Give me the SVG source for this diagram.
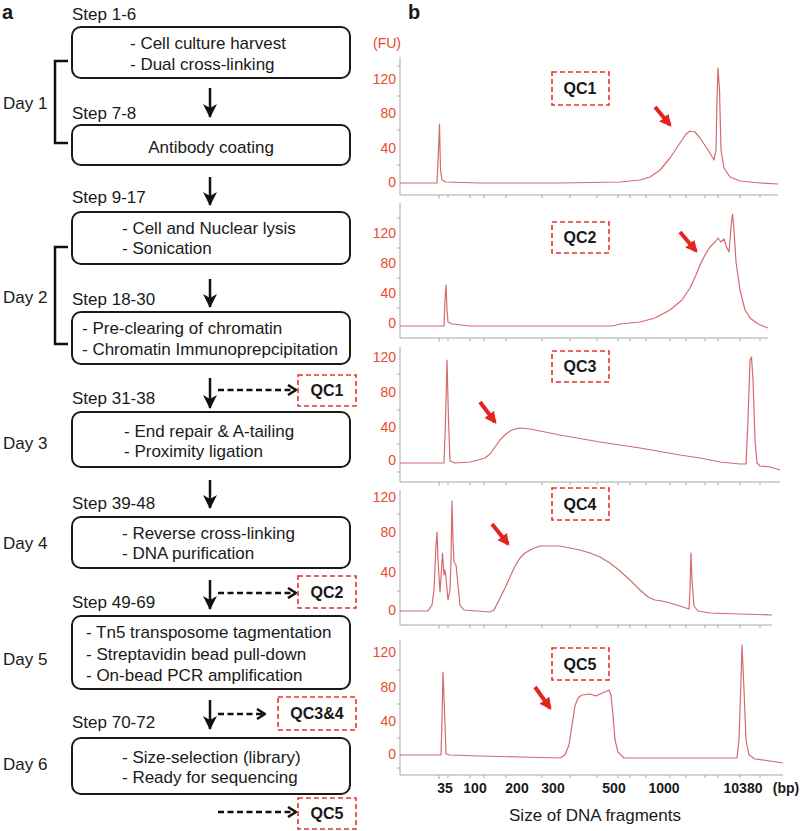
<svg xmlns="http://www.w3.org/2000/svg" xmlns:xlink="http://www.w3.org/1999/xlink" width="800" height="831" viewBox="0 0 800 831">
<style>
text{font-family:"Liberation Sans",Arial,sans-serif;fill:#1a1a1a}
.t{font-size:17px}
.step{font-size:17px}
.lbl{font-size:20px;font-weight:bold}
.qct{font-size:16px;font-weight:bold;text-anchor:middle}
.box{fill:#fff;stroke:#1a1a1a;stroke-width:2}
.qc{fill:none;stroke:#e8312f;stroke-width:1.6;stroke-dasharray:5 3}
.arr{stroke:#111;stroke-width:2.5;fill:none}
.dash{stroke:#111;stroke-width:2.5;fill:none;stroke-dasharray:6 3.5}
.brk{stroke:#111;stroke-width:2.5;fill:none}
.ax{stroke:#a8a8a8;stroke-width:1;fill:none}
.tr{stroke:#d46a6e;stroke-width:1.2;fill:none;stroke-linejoin:round}
.yl{font-size:14px;fill:#ea4a30;text-anchor:end}
.xl{font-size:14px;font-weight:bold;text-anchor:middle}
.red{stroke:#e52620;stroke-width:4;fill:none}
</style>
<defs>
<marker id="ah" markerUnits="userSpaceOnUse" markerWidth="14" markerHeight="14" viewBox="0 0 14 14" refX="13" refY="7" orient="auto"><path d="M0,0 L14,7 L0,14 L4,7 Z" fill="#111"/></marker>
<marker id="ch" markerUnits="userSpaceOnUse" markerWidth="10" markerHeight="12" viewBox="0 0 10 12" refX="9" refY="6" orient="auto"><path d="M1,1 L9,6 L1,11" fill="none" stroke="#111" stroke-width="2.5"/></marker>
<marker id="ra" markerUnits="userSpaceOnUse" markerWidth="12" markerHeight="12" viewBox="0 0 10 10" refX="8" refY="5" orient="auto"><path d="M0,0 L10,5 L0,10 Z" fill="#e52620"/></marker>
<path id="xt" class="ax" d="M439,0v4M448,0v3M470,0v3M484,0v3M506,0v3M542,0v3M570,0v3M597,0v3M618,0v3M630,0v3M646,0v3M670,0v3M686,0v3M705,0v3M718,0v3M740,0v3M760,0v3"/>
</defs>

<text x="2" y="19" class="lbl">a</text>
<text x="408" y="19" class="lbl">b</text>

<!-- Left panel: steps -->
<g id="step1">
<text x="72" y="20" class="step">Step 1-6</text>
<rect x="72" y="27" width="278" height="51" rx="9" class="box"/>
<text x="130" y="49" class="t">- Cell culture harvest</text>
<text x="130" y="70" class="t">- Dual cross-linking</text>
</g>
<g id="step2">
<text x="72" y="119" class="step">Step 7-8</text>
<rect x="72" y="125" width="278" height="40" rx="9" class="box"/>
<text x="211" y="153" class="t" text-anchor="middle">Antibody coating</text>
</g>
<g id="step3">
<text x="72" y="203" class="step">Step 9-17</text>
<rect x="72" y="212" width="278" height="52" rx="9" class="box"/>
<text x="122" y="234" class="t">- Cell and Nuclear lysis</text>
<text x="122" y="254" class="t">- Sonication</text>
</g>
<g id="step4">
<text x="72" y="305" class="step">Step 18-30</text>
<rect x="72" y="312" width="278" height="52" rx="9" class="box"/>
<text x="82" y="334" class="t">- Pre-clearing of chromatin</text>
<text x="82" y="355" class="t">- Chromatin Immunoprepcipitation</text>
</g>
<g id="step5">
<text x="72" y="404" class="step">Step 31-38</text>
<rect x="72" y="412" width="278" height="55" rx="9" class="box"/>
<text x="124" y="437" class="t">- End repair &amp; A-tailing</text>
<text x="124" y="457" class="t">- Proximity ligation</text>
</g>
<g id="step6">
<text x="72" y="509" class="step">Step 39-48</text>
<rect x="72" y="517" width="278" height="51" rx="9" class="box"/>
<text x="122" y="539" class="t">- Reverse cross-linking</text>
<text x="122" y="559" class="t">- DNA purification</text>
</g>
<g id="step7">
<text x="72" y="608" class="step">Step 49-69</text>
<rect x="72" y="616" width="278" height="73" rx="9" class="box"/>
<text x="86" y="638" class="t">- Tn5 transposome tagmentation</text>
<text x="86" y="660" class="t">- Streptavidin bead pull-down</text>
<text x="86" y="681" class="t">- On-bead PCR amplification</text>
</g>
<g id="step8">
<text x="72" y="728" class="step">Step 70-72</text>
<rect x="72" y="738" width="278" height="56" rx="9" class="box"/>
<text x="122" y="763" class="t">- Size-selection (library)</text>
<text x="122" y="783" class="t">- Ready for sequencing</text>
</g>

<g id="days">
<path class="brk" d="M68,61 H55 V143 H68"/>
<path class="brk" d="M68,247 H55 V344 H68"/>
<text x="3" y="109" class="t">Day 1</text>
<text x="3" y="303" class="t">Day 2</text>
<text x="3" y="449" class="t">Day 3</text>
<text x="3" y="549" class="t">Day 4</text>
<text x="3" y="665" class="t">Day 5</text>
<text x="3" y="770" class="t">Day 6</text>
</g>

<g id="qc-left">
<rect x="298" y="375" width="58" height="31" class="qc"/>
<text x="327" y="396" class="qct">QC1</text>
<rect x="298" y="576" width="58" height="32" class="qc"/>
<text x="327" y="598" class="qct">QC2</text>
<rect x="278" y="697" width="78" height="33" class="qc"/>
<text x="317" y="719" class="qct">QC3&amp;4</text>
<rect x="298" y="798" width="58" height="31" class="qc"/>
<text x="327" y="819" class="qct">QC5</text>
</g>

<g id="connectors">
<line x1="210" y1="88" x2="210" y2="117" class="arr" marker-end="url(#ah)"/>
<line x1="210" y1="177" x2="210" y2="205" class="arr" marker-end="url(#ah)"/>
<line x1="210" y1="279" x2="210" y2="307" class="arr" marker-end="url(#ah)"/>
<line x1="210" y1="378" x2="210" y2="408" class="arr" marker-end="url(#ah)"/>
<line x1="210" y1="480" x2="210" y2="508" class="arr" marker-end="url(#ah)"/>
<line x1="210" y1="580" x2="210" y2="609" class="arr" marker-end="url(#ah)"/>
<line x1="210" y1="700" x2="210" y2="729" class="arr" marker-end="url(#ah)"/>
<line x1="218" y1="390" x2="296" y2="390" class="dash" marker-end="url(#ch)"/>
<line x1="218" y1="593" x2="296" y2="593" class="dash" marker-end="url(#ch)"/>
<line x1="218" y1="714" x2="265" y2="714" class="dash" marker-end="url(#ch)"/>
<line x1="218" y1="812" x2="296" y2="812" class="dash" marker-end="url(#ch)"/>
</g>

<!-- Right panel: electropherograms -->
<text x="373" y="48" font-size="14" fill="#ea4a30" style="fill:#ea4a30">(FU)</text>

<g id="chart1">
<path class="ax" d="M400,57 V195 H778"/>
<path class="ax" d="M397,66h3M397,96h3M397,130h3M397,165h3"/>
<use xlink:href="#xt" y="195"/>
<text x="396" y="84" class="yl">120</text><text x="396" y="118" class="yl">80</text><text x="396" y="153" class="yl">40</text><text x="396" y="187" class="yl">0</text>
<path class="tr" d="M400,183 L437,183 L438.5,150 L439.5,124 L440.5,170 L442,180 L446,182 L480,183 L560,183 L620,182 L640,180 L650,177 L660,170 L670,158 L680,143 L686,134 L690,131 L695,132 L700,138 L708,150 L714,160 L716,150 L717,100 L718,68 L719.5,90 L721,150 L724,168 L730,177 L740,181 L760,183 L778,184"/>
<rect x="552" y="72" width="57" height="33" class="qc"/>
<text x="580" y="94" class="qct">QC1</text>
<line x1="655" y1="107" x2="670" y2="125" class="red" marker-end="url(#ra)"/>
</g>

<g id="chart2">
<path class="ax" d="M400,203 V338 H768"/>
<path class="ax" d="M397,218h3M397,248h3M397,278h3M397,308h3"/>
<use xlink:href="#xt" y="338"/>
<text x="396" y="238" class="yl">120</text><text x="396" y="268" class="yl">80</text><text x="396" y="298" class="yl">40</text><text x="396" y="328" class="yl">0</text>
<path class="tr" d="M400,326 L444,326 L445,300 L446,285 L447,310 L448,322 L452,324 L470,326 L613,326 L620,324 L640,322 L655,318 L670,310 L682,300 L690,288 L696,275 L700,265 L705,255 L710,247 L715,242 L718,238 L721,242 L724,239 L727,248 L729,252 L730,240 L731.5,222 L732.5,214 L734,230 L736,262 L740,290 L745,310 L750,318 L758,324 L768,328"/>
<rect x="552" y="222" width="57" height="31" class="qc"/>
<text x="580" y="243" class="qct">QC2</text>
<line x1="680" y1="232" x2="696" y2="251" class="red" marker-end="url(#ra)"/>
</g>

<g id="chart3">
<path class="ax" d="M400,347 V482 H780"/>
<path class="ax" d="M397,374h3M397,410h3M397,444h3M397,472h3"/>
<use xlink:href="#xt" y="482"/>
<text x="396" y="362" class="yl">120</text><text x="396" y="397" class="yl">80</text><text x="396" y="432" class="yl">40</text><text x="396" y="465" class="yl">0</text>
<path class="tr" d="M400,463 L444,463 L445.5,420 L447,360 L448.5,420 L450,461 L455,463 L470,462 L478,460 L485,458 L490,454 L495,447 L500,440 L505,435 L510,431 L515,429 L520,428 L530,429 L560,435 L600,442 L640,448 L680,455 L700,458 L720,462 L740,464 L746,464 L748,420 L750,360 L751.5,357 L753,380 L755,440 L757,463 L760,466 L770,467 L780,470"/>
<rect x="552" y="351" width="57" height="31" class="qc"/>
<text x="580" y="372" class="qct">QC3</text>
<line x1="480" y1="402" x2="495" y2="422" class="red" marker-end="url(#ra)"/>
</g>

<g id="chart4">
<path class="ax" d="M400,490 V625 H772"/>
<path class="ax" d="M397,514h3M397,552h3M397,591h3"/>
<use xlink:href="#xt" y="625"/>
<text x="396" y="502" class="yl">120</text><text x="396" y="537" class="yl">80</text><text x="396" y="577" class="yl">40</text><text x="396" y="615" class="yl">0</text>
<path class="tr" d="M400,611 L428,611 L432,605 L434,590 L436,545 L437,532 L438,560 L440,592 L441.5,570 L442.5,553 L444,575 L445,570 L446,578 L448,600 L450,590 L451,560 L452,501 L453,540 L454,562 L456,565 L458,585 L460,605 L464,610 L490,612 L494,610 L500,598 L505,588 L510,577 L515,566 L520,558 L525,553 L532,549 L540,546 L550,546 L560,546 L570,548 L580,550 L590,553 L600,557 L610,563 L620,571 L630,580 L640,590 L648,597 L655,600 L662,601 L670,603 L680,606 L689,609 L690,590 L691,553 L692,580 L694,606 L698,611 L710,613 L740,614 L772,615"/>
<rect x="552" y="488" width="57" height="32" class="qc"/>
<text x="580" y="510" class="qct">QC4</text>
<line x1="492" y1="524" x2="508" y2="544" class="red" marker-end="url(#ra)"/>
</g>

<g id="chart5">
<path class="ax" d="M400,640 V775 H783"/>
<path class="ax" d="M397,670h3M397,704h3M397,738h3M397,768h3"/>
<use xlink:href="#xt" y="775"/>
<text x="396" y="657" class="yl">120</text><text x="396" y="692" class="yl">80</text><text x="396" y="726" class="yl">40</text><text x="396" y="759" class="yl">0</text>
<path class="tr" d="M400,755 L441,755 L442,720 L443,672 L444.5,710 L446,754 L450,755 L480,756 L520,757 L560,758 L565,755 L569,745 L572,725 L575,706 L578,698 L582,695 L590,694 L596,696 L600,694 L605,692 L609,690 L611,695 L613,715 L615,740 L618,752 L624,758 L640,758 L700,758 L737,758 L739,740 L741,680 L742,645 L744,690 L746,740 L749,755 L755,759 L770,761 L783,763"/>
<rect x="552" y="648" width="57" height="32" class="qc"/>
<text x="580" y="670" class="qct">QC5</text>
<line x1="535" y1="687" x2="550" y2="708" class="red" marker-end="url(#ra)"/>
</g>

<g id="xaxis-labels">
<text x="445" y="793" class="xl">35</text>
<text x="475" y="793" class="xl">100</text>
<text x="517" y="793" class="xl">200</text>
<text x="553" y="793" class="xl">300</text>
<text x="614" y="793" class="xl">500</text>
<text x="664" y="793" class="xl">1000</text>
<text x="743" y="793" class="xl">10380</text>
<text x="786" y="793" class="xl">(bp)</text>
<text x="595" y="821" class="t" text-anchor="middle">Size of DNA fragments</text>
</g>
</svg>
